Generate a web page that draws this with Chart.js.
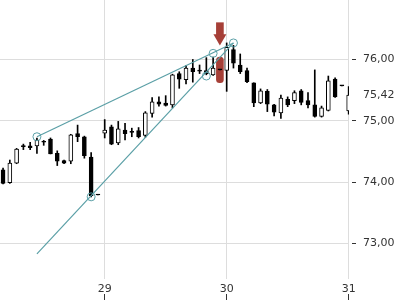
<!DOCTYPE html>
<html>
<head>
<meta charset="utf-8">
<script src="https://cdn.jsdelivr.net/npm/chart.js@4.4.0/dist/chart.umd.min.js"></script>
<style>
  html, body { margin: 0; padding: 0; background: #fff; }
</style>
</head>
<body>
<canvas id="chart" width="400" height="300"></canvas>
<script>
// bougies (ouverture, haut, bas, clôture), une par index
const opens  = [74.20, 73.99, 74.31, 74.59, 74.59, 74.59, 74.66, 74.70, 74.47, 74.35,
                74.34, 74.79, 74.74, 74.41, 73.80, 74.80, 74.90, 74.64, 74.85, 74.82,
                74.84, 74.76, 75.12, 75.31, 75.29, 75.26, 75.77, 75.67, 75.86, 75.82,
                75.82, 75.75, 75.84, 75.82, 76.16, 75.91, 75.82, 75.62, 75.29, 75.48,
                75.26, 75.13, 75.35, 75.33, 75.49, 75.33, 75.26, 75.07, 75.17, 75.68,
                75.58, 75.16];
const highs  = [74.23, 74.36, 74.55, 74.62, 74.65, 74.72, 74.68, 74.72, 74.51, 74.36,
                74.78, 74.93, 74.75, 74.48, 73.80, 75.02, 74.93, 74.99, 74.96, 74.88,
                74.89, 75.15, 75.38, 75.39, 75.41, 75.76, 75.80, 75.90, 76.00, 75.91,
                76.03, 76.04, 75.84, 76.27, 76.23, 76.09, 75.86, 75.62, 75.52, 75.51,
                75.27, 75.42, 75.39, 75.49, 75.51, 75.46, 75.83, 75.24, 75.73, 75.70,
                75.58, 75.56];
const lows   = [73.97, 73.98, 74.30, 74.53, 74.53, 74.47, 74.60, 74.46, 74.27, 74.30,
                74.30, 74.66, 74.39, 73.76, 73.79, 74.72, 74.61, 74.61, 74.69, 74.74,
                74.72, 74.73, 75.06, 75.24, 75.24, 75.21, 75.53, 75.60, 75.63, 75.77,
                75.75, 75.74, 75.83, 75.48, 75.86, 75.77, 75.62, 75.23, 75.28, 75.15,
                75.08, 75.04, 75.23, 75.28, 75.26, 75.21, 75.06, 75.06, 75.16, 75.38,
                75.57, 75.11];
const closes = [73.98, 74.31, 74.54, 74.58, 74.56, 74.68, 74.65, 74.46, 74.34, 74.31,
                74.77, 74.74, 74.43, 73.78, 73.79, 74.85, 74.62, 74.87, 74.79, 74.81,
                74.74, 75.13, 75.31, 75.27, 75.25, 75.75, 75.68, 75.86, 75.80, 75.81,
                75.77, 75.86, 75.83, 76.20, 75.94, 75.80, 75.64, 75.29, 75.49, 75.27,
                75.14, 75.37, 75.26, 75.46, 75.30, 75.26, 75.07, 75.21, 75.65, 75.39,
                75.57, 75.42];

// jours (premier index de chaque jour)
const dayLabels = ['29', '30', '31'];
const dayStarts = [15, 33, 51];

// axe des prix
const priceTicks = [73, 74, 75, 76];
const lastClose = 75.42;

// lignes de tendance et points de contact
const upperLine = [{x: 5, y: 74.74}, {x: 34, y: 76.27}];
const lowerLine = [{x: 5, y: 72.83}, {x: 34, y: 76.27}];
const touches = [{x: 5, y: 74.74}, {x: 13, y: 73.76}, {x: 30, y: 75.73}, {x: 31, y: 76.10}, {x: 34, y: 76.27}];

// signal (barre rouge + flèche)
const signalIndex = 32;
const signalRange = [75.62, 76.04];
const arrowStem = [76.40, 76.60];
const arrowHead = 76.35;

const teal = '#5a9fa6';
const red = '#a63f37';

Chart.defaults.font.family = 'DejaVu Sans';
Chart.defaults.font.size = 11;
Chart.defaults.color = '#333';

const bodies = opens.map((o, i) => ({x: i, y: [o, closes[i]]}));
const wicks = lows.map((l, i) => ({x: i, y: [l, highs[i]]}));
const bodyColors = opens.map((o, i) => closes[i] >= o ? '#fff' : '#000');

const isLast = c => c.tick && c.tick.value === lastClose;

new Chart(document.getElementById('chart'), {
    type: 'bar',
    data: {
        datasets: [
            { type: 'line', data: upperLine, borderColor: teal, borderWidth: 1.2, pointRadius: 0, order: 0 },
            { type: 'line', data: lowerLine, borderColor: teal, borderWidth: 1.2, pointRadius: 0, order: 0 },
            { type: 'line', data: touches, showLine: false, pointRadius: 4, pointBorderWidth: 1,
              pointBorderColor: teal, pointBackgroundColor: 'rgba(0,0,0,0)', order: 0 },
            { type: 'line', data: [{x: signalIndex, y: arrowHead}], showLine: false, pointStyle: 'triangle',
              pointRadius: 7.5, pointRotation: 180, pointBorderWidth: 0, pointBackgroundColor: red, order: 1 },
            { data: [{x: signalIndex, y: arrowStem}], backgroundColor: red, barThickness: 7, grouped: false, order: 1 },
            { data: bodies, backgroundColor: bodyColors, borderColor: '#000', borderWidth: 1, borderSkipped: false,
              barThickness: 4, minBarLength: 1, grouped: false, order: 2 },
            { data: wicks, backgroundColor: '#000', barThickness: 1, grouped: false, order: 3 },
            { data: [{x: signalIndex, y: signalRange}], backgroundColor: red, barThickness: 7, borderRadius: 4,
              borderSkipped: false, grouped: false, order: 4 }
        ]
    },
    options: {
        responsive: false,
        animation: false,
        plugins: { legend: { display: false }, tooltip: { enabled: false } },
        layout: { padding: 0, autoPadding: false },
        scales: {
            x: {
                type: 'linear', min: -0.45, max: 51.05, offset: false,
                afterBuildTicks: s => { s.ticks = dayStarts.map(v => ({value: v})); },
                afterFit: s => { s.height = 21; s.paddingLeft = 0; s.paddingRight = 0; },
                grid: { color: '#ddd', offset: false, tickLength: 21, tickColor: '#333', tickBorderDash: [0, 15, 6, 40] },
                border: { display: false },
                ticks: { padding: -17, maxRotation: 0, autoSkip: false,
                         callback: v => dayLabels[dayStarts.indexOf(v)] }
            },
            y: {
                position: 'right', min: 72.42, max: 76.97,
                afterBuildTicks: s => { s.ticks = priceTicks.concat([lastClose]).map(v => ({value: v})); },
                afterFit: s => { s.width = 51; s.paddingTop = 0; s.paddingBottom = 0; },
                grid: { color: c => isLast(c) ? 'rgba(0,0,0,0)' : '#ddd',
                        tickColor: c => isLast(c) ? 'rgba(0,0,0,0)' : '#333',
                        tickLength: 7, tickBorderDash: [0, 3, 4, 20] },
                border: { display: false },
                ticks: { padding: 7, autoSkip: false, callback: v => v.toFixed(2).replace('.', ',') }
            }
        }
    }
});
</script>
</body>
</html>
